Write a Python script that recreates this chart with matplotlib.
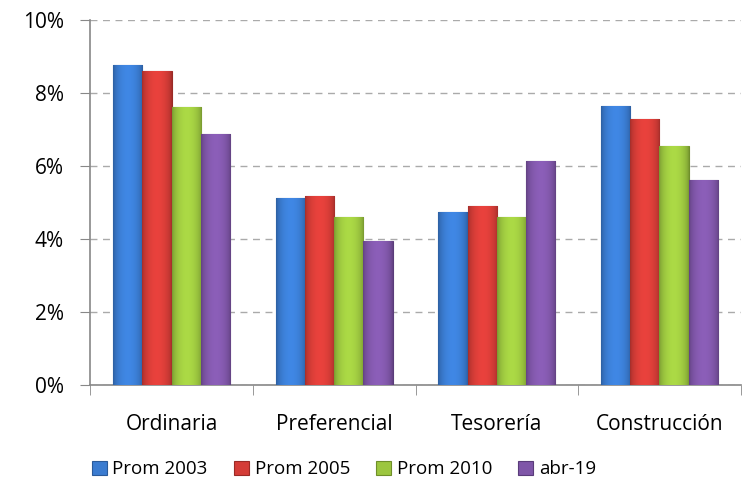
import numpy as np
import matplotlib.pyplot as plt
from matplotlib.colors import to_rgb
from matplotlib.ticker import FuncFormatter

# categories and series (percent)
categories = ['Ordinaria', 'Preferencial', 'Tesorería', 'Construcción']
series_names = ['Prom 2003', 'Prom 2005', 'Prom 2010', 'abr-19']
prom_2003 = [8.78, 5.12, 4.75, 7.66]
prom_2005 = [8.61, 5.19, 4.90, 7.30]
prom_2010 = [7.61, 4.60, 4.61, 6.55]
abr_19 = [6.88, 3.95, 6.14, 5.62]

colors = ['#3a7bd0', '#d43c37', '#9cc63f', '#7f56a8']
edges = ['#2a5a9a', '#9a2a26', '#6f8f2a', '#5a3c7a']

plt.rcParams['font.family'] = ['Open Sans', 'DejaVu Sans']

fig, ax = plt.subplots(figsize=(7.46, 4.90), dpi=100)
fig.subplots_adjust(left=0.121, right=0.993, top=0.959, bottom=0.214)


def shade(c):
    # horizontal gradient: darker edges, lighter middle
    c = np.array(to_rgb(c))
    t = np.linspace(0, 1, 32)
    f = 0.78 + 0.32 * np.sin(np.pi * t) ** 0.6
    row = np.clip(c[None, :] * f[:, None], 0, 1)
    return row[None, :, :]


x = np.arange(len(categories))
w = 0.18
data = [prom_2003, prom_2005, prom_2010, abr_19]
for i, vals in enumerate(data):
    bars = ax.bar(x + (i - 1.5) * w, vals, w, color=colors[i], edgecolor=edges[i],
                  linewidth=0.8, label=series_names[i], zorder=3)
    img = shade(colors[i])
    for b in bars:
        x0, y0 = b.get_x(), b.get_y()
        im = ax.imshow(img, extent=(x0, x0 + b.get_width(), y0, y0 + b.get_height()),
                       aspect='auto', zorder=3.5, interpolation='bicubic')
        im.set_clip_path(b)

ax.set_xlim(-0.5, len(categories) - 0.5)
ax.set_ylim(0, 10)
ax.set_aspect('auto')
ax.set_yticks(np.arange(0, 11, 2))
ax.yaxis.set_major_formatter(FuncFormatter(lambda v, p: '%d%%' % v))
ax.set_xticks(x)
ax.set_xticklabels(categories)
ax.set_xticks(np.arange(-0.5, len(categories)), minor=True)
ax.tick_params(axis='x', which='major', length=0, pad=21, labelsize=15)
ax.tick_params(axis='x', which='minor', length=7, color='#888888')
ax.tick_params(axis='y', length=7, color='#888888', labelsize=15, pad=12)

ax.grid(axis='y', linestyle=(0, (5, 4)), color='#aaaaaa', linewidth=1, zorder=0)
for s in ['top', 'right']:
    ax.spines[s].set_visible(False)
for s in ['left', 'bottom']:
    ax.spines[s].set_color('#888888')
    ax.spines[s].set_linewidth(1.2)

ax.legend(loc='upper center', bbox_to_anchor=(0.39, -0.16), ncol=4, frameon=False,
          fontsize=13.5, handlelength=0.8, handleheight=0.8, handletextpad=0.3,
          columnspacing=1.4)

fig.savefig('out.png')
